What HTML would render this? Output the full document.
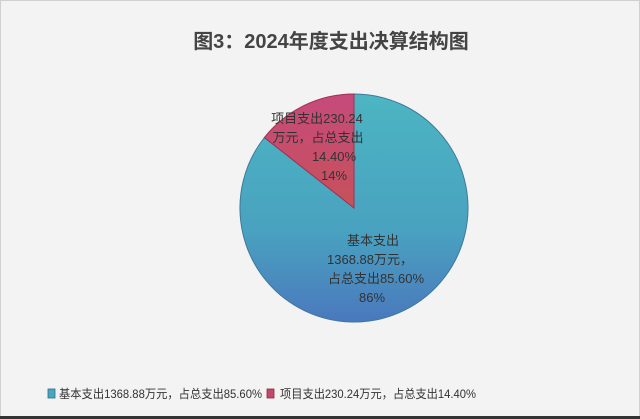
<!DOCTYPE html>
<html><head><meta charset="utf-8"><style>
body{margin:0;background:#fff}
#c{position:relative;width:638px;height:415px;background:#f3f3f3;border:1px solid #d0d0d0;font-family:"Liberation Sans","Noto Sans CJK SC",sans-serif;overflow:hidden}
.bot{position:absolute;left:0;top:416px;width:640px;height:3px;background:#333}
</style></head><body>
<div id="c">
<svg width="638" height="415" style="position:absolute;left:0;top:0">
<defs>
<linearGradient id="b" x1="0" y1="0" x2="0" y2="1"><stop offset="0" stop-color="#4cb5c2"/><stop offset="0.6" stop-color="#49a2c0"/><stop offset="1" stop-color="#4a78bd"/></linearGradient>
<linearGradient id="r" x1="0" y1="0" x2="0" y2="1"><stop offset="0" stop-color="#c64a7c"/><stop offset="1" stop-color="#c6525a"/></linearGradient>
</defs>
<text x="330" y="47" text-anchor="middle" font-size="20" font-weight="bold" fill="#444" font-family="Liberation Sans,Noto Sans CJK SC,sans-serif">图3：2024年度支出决算结构图</text>
<path d="M353,207 L353,93 A114,114 0 1,1 263.4,136.5 Z" fill="url(#b)" stroke="#3d7a9a" stroke-width="1"/>
<path d="M353,207 L263.4,136.5 A114,114 0 0,1 353,93 Z" fill="url(#r)" stroke="#a03050" stroke-width="1"/>
<g font-size="13" fill="#333" text-anchor="middle">
<text x="316" y="122">项目支出230.24</text>
<text x="317" y="141">万元，占总支出</text>
<text x="333" y="160">14.40%</text>
<text x="333" y="179">14%</text>
<text x="372" y="244">基本支出</text>
<text x="369" y="263">1368.88万元，</text>
<text x="375" y="282">占总支出85.60%</text>
<text x="371" y="301">86%</text>
</g>
<rect x="47" y="388" width="7" height="9" fill="#4aa6c0" stroke="#2d6e8a" stroke-width="0.8"/>
<rect x="266" y="388" width="7" height="9" fill="#c4486a" stroke="#8a2a40" stroke-width="0.8"/>
<g font-size="12" fill="#333">
<text x="58" y="397" textLength="203" lengthAdjust="spacingAndGlyphs">基本支出1368.88万元，占总支出85.60%</text>
<text x="279" y="397" textLength="196" lengthAdjust="spacingAndGlyphs">项目支出230.24万元，占总支出14.40%</text>
</g>
</svg>
</div>
<div class="bot"></div>
</body></html>
